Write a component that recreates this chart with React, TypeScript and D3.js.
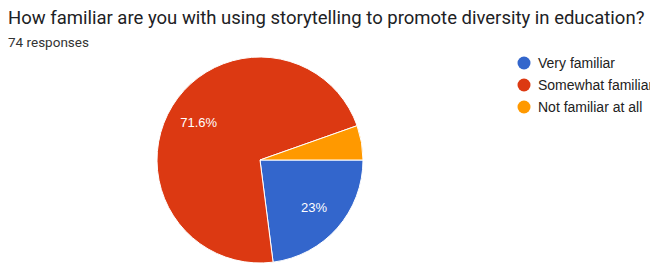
import { useEffect, useRef } from "react";
import * as d3 from "d3";

const categories = ["Very familiar", "Somewhat familiar", "Not familiar at all"];
const counts = [17, 53, 4];
const colors = ["#3366cc", "#dc3912", "#ff9900"];
const title = "How familiar are you with using storytelling to promote diversity in education?";
const subtitle = "74 responses";

export default function App() {
  const svgRef = useRef<SVGSVGElement | null>(null);

  useEffect(() => {
    const width = 650;
    const height = 263;
    const cx = 260;
    const cy = 160;
    const r = 103;

    const svg = d3.select(svgRef.current);
    svg.selectAll("*").remove();
    svg.attr("width", width).attr("height", height);

    svg
      .append("rect")
      .attr("width", width)
      .attr("height", height)
      .attr("fill", "#fff");

    svg
      .append("text")
      .attr("x", 8)
      .attr("y", 24)
      .text(title)
      .style("font-family", "Roboto, sans-serif")
      .style("font-size", "18.5px")
      .style("fill", "#202124");

    svg
      .append("text")
      .attr("x", 8)
      .attr("y", 47)
      .text(subtitle)
      .style("font-family", "Roboto, sans-serif")
      .style("font-size", "13.5px")
      .style("fill", "#333");

    const total = d3.sum(counts);
    const pie = d3
      .pie<number>()
      .sort(null)
      .startAngle(Math.PI / 2)
      .endAngle(Math.PI / 2 + 2 * Math.PI);
    const arcs = pie(counts);
    const arc = d3.arc<d3.PieArcDatum<number>>().innerRadius(0).outerRadius(r);
    const labelArc = d3
      .arc<d3.PieArcDatum<number>>()
      .innerRadius(r * 0.7)
      .outerRadius(r * 0.7);

    const g = svg.append("g").attr("transform", `translate(${cx},${cy})`);

    g.selectAll("path")
      .data(arcs)
      .join("path")
      .attr("d", arc)
      .attr("fill", (_, i) => colors[i])
      .attr("stroke", "#fff")
      .attr("stroke-width", 1);

    g.selectAll("text")
      .data(arcs.filter((d) => d.data / total > 0.1))
      .join("text")
      .attr("transform", (d) => `translate(${labelArc.centroid(d)})`)
      .attr("text-anchor", "middle")
      .attr("dy", "0.35em")
      .text((d) => {
        const p = Math.round((d.data / total) * 1000) / 10;
        return `${p}%`;
      })
      .style("font-family", "Arial, 'Liberation Sans', sans-serif")
      .style("font-size", "13px")
      .style("fill", "#fff");

    const legend = svg
      .append("g")
      .selectAll("g")
      .data(categories)
      .join("g")
      .attr("transform", (_, i) => `translate(524,${63 + i * 22})`);

    legend
      .append("circle")
      .attr("r", 6.5)
      .attr("fill", (_, i) => colors[i]);

    legend
      .append("text")
      .attr("x", 14)
      .attr("dy", "0.35em")
      .text((d) => d)
      .style("font-family", "Arial, 'Liberation Sans', sans-serif")
      .style("font-size", "14px")
      .style("fill", "#222");
  }, []);

  return (
    <svg
      ref={svgRef}
      style={{ position: "absolute", left: 0, top: 0, display: "block" }}
    ></svg>
  );
}
